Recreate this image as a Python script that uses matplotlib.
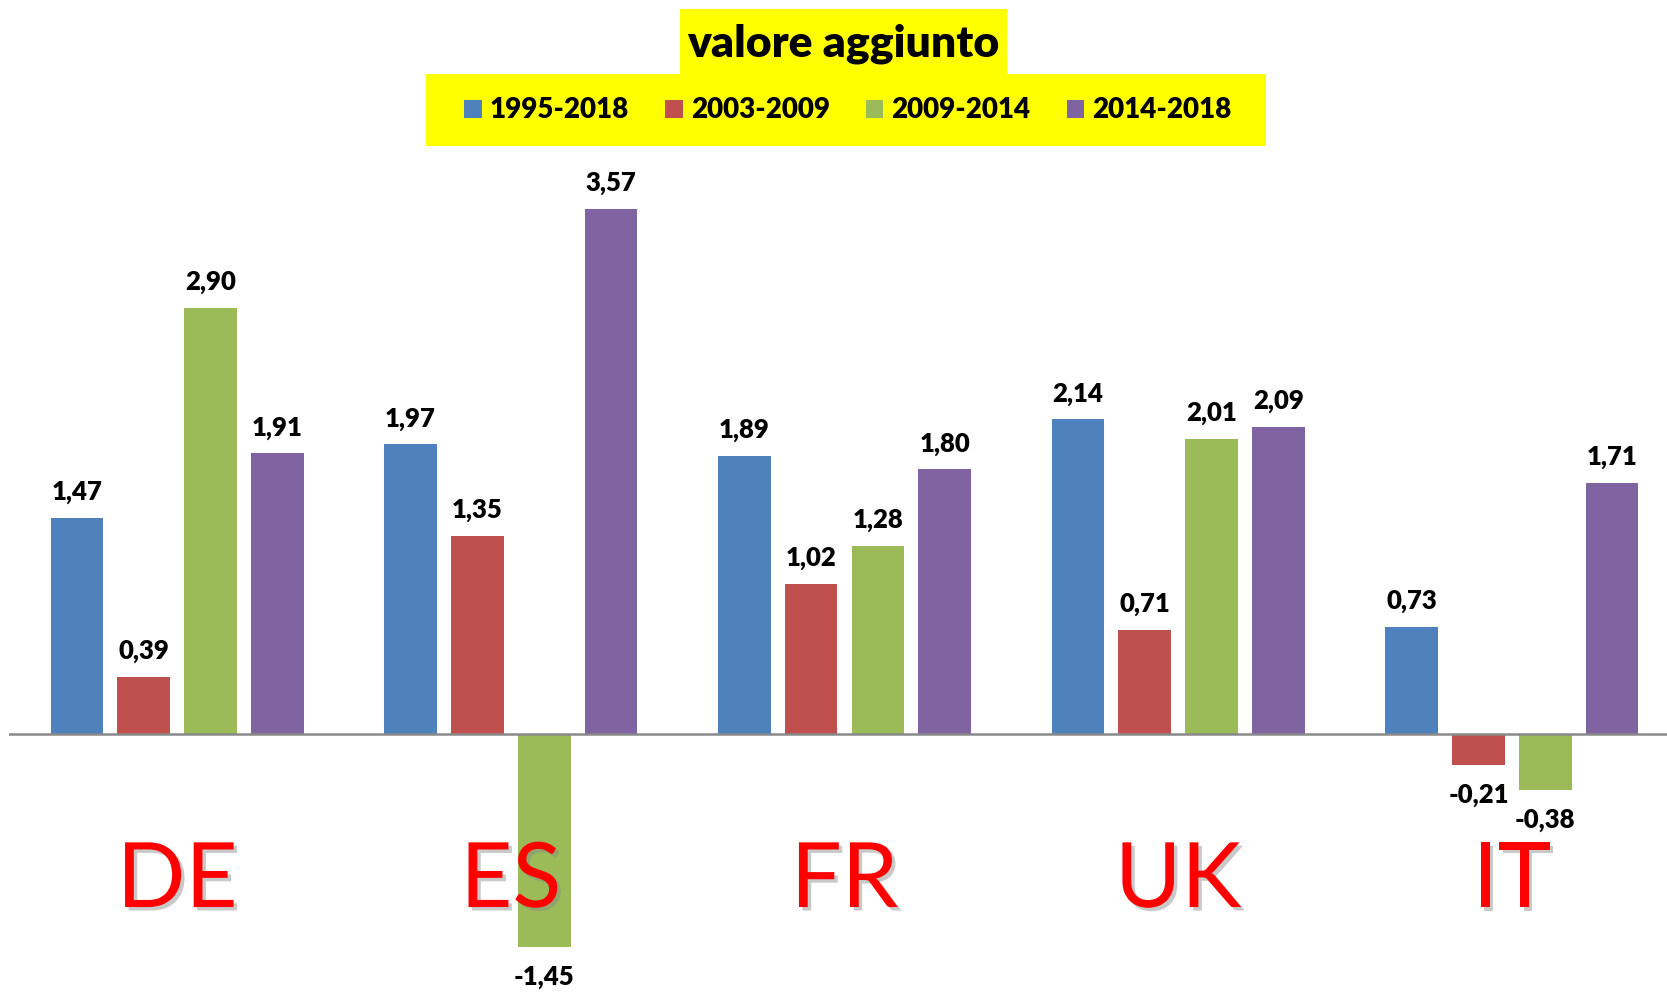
import matplotlib
matplotlib.use("Agg")
import matplotlib.pyplot as plt
import matplotlib.patheffects as pe
from matplotlib.patches import Rectangle, Patch
import numpy as np

countries = ["DE", "ES", "FR", "UK", "IT"]
series = ["1995-2018", "2003-2009", "2009-2014", "2014-2018"]
v_1995_2018 = [1.47, 1.97, 1.89, 2.14, 0.73]
v_2003_2009 = [0.39, 1.35, 1.02, 0.71, -0.21]
v_2009_2014 = [2.90, -1.45, 1.28, 2.01, -0.38]
v_2014_2018 = [1.91, 3.57, 1.80, 2.09, 1.71]
values = [v_1995_2018, v_2003_2009, v_2009_2014, v_2014_2018]
colors = ["#4F81BD", "#C0504D", "#9BBB59", "#8064A2"]
title = "valore aggiunto"

W, H = 1667, 992
fig = plt.figure(figsize=(W / 100, H / 100), dpi=100)
fig.patch.set_facecolor("white")

ax = fig.add_axes([9 / W, 0, 1 - 9 / W, 1])
ax.set_facecolor("none")
ax.set_xlim(-0.504, 4.465)
ax.set_ylim(-1.755, 4.993)
ax.axis("off")

step = 0.2003
width = 0.158
x = np.arange(len(countries))
PX = 0.72  # points per pixel at dpi 100
WEIGHT = "heavy"

for i, (vals, col) in enumerate(zip(values, colors)):
    pos = x + (i - 1.5) * step
    ax.bar(pos, vals, width=width, color=col, zorder=2)
    for px_, v in zip(pos, vals):
        s = f"{v:.2f}".replace(".", ",")
        if v >= 0:
            off = 18 * PX
        else:
            off = -38 * PX
        ax.annotate(s, (px_, v), xytext=(0, off), textcoords="offset points",
                    ha="center", va="baseline", fontsize=18.5, fontweight=WEIGHT,
                    family="Lato", color="black", zorder=4)

ax.axhline(0, color="#898989", lw=1.8, zorder=3)

for xi, c in zip(x, countries):
    ax.text(xi, -1.177, c, ha="center", va="baseline", fontsize=65,
            family="Lato", color="#FF0000", zorder=5,
            path_effects=[pe.withSimplePatchShadow(offset=(2.5, -2.5),
                                                   shadow_rgbFace="#888888", alpha=0.45)])

# title and legend boxes
def frect(x0, y0, x1, y1, **kw):
    r = Rectangle((x0 / W, 1 - y1 / H), (x1 - x0) / W, (y1 - y0) / H,
                  transform=fig.transFigure, **kw)
    fig.patches.append(r)

frect(680, 8.5, 1007, 74.8, facecolor="#FFFF00", edgecolor="none", zorder=1)
frect(426, 74.4, 1266, 145.6, facecolor="#FFFF00", edgecolor="none", zorder=1)

fig.text(843.5 / W, 1 - 56 / H, title, ha="center", va="baseline",
         fontsize=32, fontweight=WEIGHT, family="Lato", color="black")

handles = [Patch(facecolor=c, edgecolor="none") for c in colors]
leg = fig.legend(handles, series, ncol=4, loc="center",
                 bbox_to_anchor=(848 / W, 1 - 110.5 / H), frameon=False,
                 prop={"family": "Lato", "weight": WEIGHT, "size": 20},
                 handlelength=0.62, handleheight=0.62, handletextpad=0.3,
                 columnspacing=1.3, borderpad=0)

fig.savefig("out.png", dpi=100, facecolor="white")
